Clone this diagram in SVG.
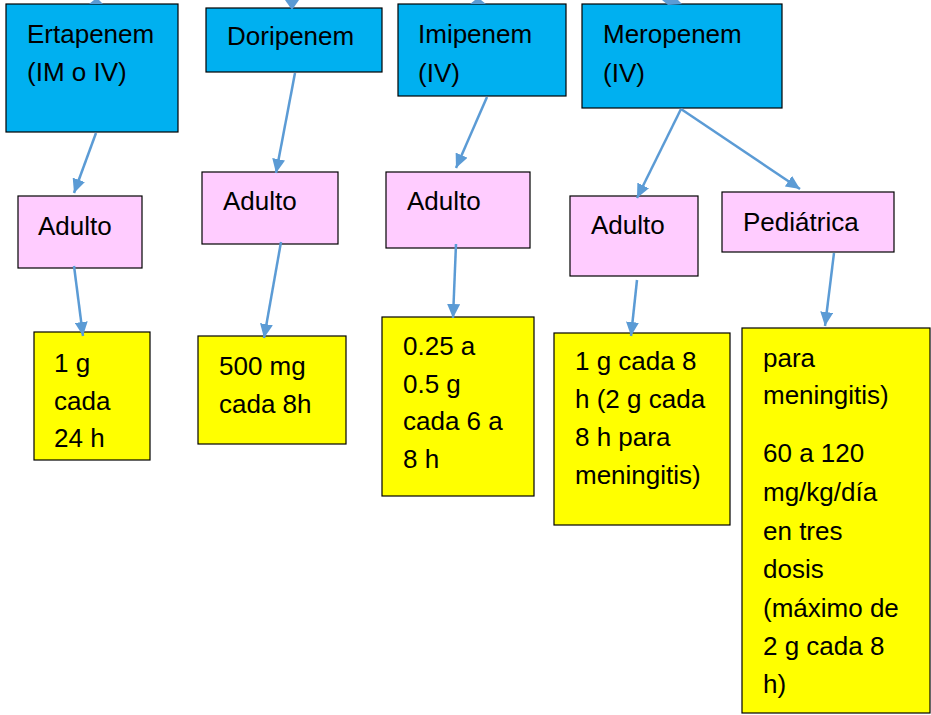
<svg xmlns="http://www.w3.org/2000/svg" width="931" height="715" viewBox="0 0 931 715">
<defs>
<style>
.drug{fill:#00B0F0;stroke:#000;stroke-width:1.2}
.grp{fill:#FFCCFF;stroke:#000;stroke-width:1.2}
.dose{fill:#FFFF00;stroke:#000;stroke-width:1.2}
text{font-family:"Liberation Sans",Arial,sans-serif;font-size:26px;fill:#000}
.conn line{stroke:#5B9BD5;stroke-width:2.5;marker-end:url(#arr)}
.conn polygon{fill:#5B9BD5}
</style>
<marker id="arr" viewBox="0 0 14 13" refX="14" refY="6.5" markerWidth="14" markerHeight="13" markerUnits="userSpaceOnUse" orient="auto">
<path d="M0,0 L14,6.5 L0,13 z" fill="#5B9BD5"/>
</marker>
</defs>
<rect width="931" height="715" fill="#fff"/>
<g id="n-ertapenem"><rect class="drug" x="6" y="4" width="172" height="128"/><text x="27" y="43">Ertapenem</text><text x="27" y="81">(IM o IV)</text></g>
<g id="n-doripenem"><rect class="drug" x="206" y="8" width="176" height="64"/><text x="227" y="45">Doripenem</text></g>
<g id="n-imipenem"><rect class="drug" x="398" y="4" width="168" height="92"/><text x="418" y="43">Imipenem</text><text x="418" y="82">(IV)</text></g>
<g id="n-meropenem"><rect class="drug" x="582" y="4" width="200" height="104"/><text x="603" y="43">Meropenem</text><text x="603" y="82">(IV)</text></g>
<g id="n-adulto-e"><rect class="grp" x="18" y="196" width="124" height="72"/><text x="38" y="235">Adulto</text></g>
<g id="n-adulto-d"><rect class="grp" x="202" y="172" width="136" height="72"/><text x="223" y="210">Adulto</text></g>
<g id="n-adulto-i"><rect class="grp" x="386" y="172" width="144" height="76"/><text x="407" y="210">Adulto</text></g>
<g id="n-adulto-m"><rect class="grp" x="570" y="196" width="128" height="80"/><text x="591" y="234">Adulto</text></g>
<g id="n-pediatrica"><rect class="grp" x="722" y="192" width="172" height="60"/><text x="743" y="231">Pediátrica</text></g>
<g id="n-dose-e"><rect class="dose" x="34" y="332" width="116" height="128"/><text x="54" y="372">1 g</text><text x="54" y="410">cada</text><text x="54" y="447">24 h</text></g>
<g id="n-dose-d"><rect class="dose" x="198" y="336" width="148" height="108"/><text x="219" y="375">500 mg</text><text x="219" y="413">cada 8h</text></g>
<g id="n-dose-i"><rect class="dose" x="382" y="317" width="152" height="179"/><text x="403" y="355">0.25 a</text><text x="403" y="393">0.5 g</text><text x="403" y="430">cada 6 a</text><text x="403" y="468">8 h</text></g>
<g id="n-dose-m"><rect class="dose" x="554" y="333" width="176" height="192"/><text x="575" y="370">1 g cada 8</text><text x="575" y="408">h (2 g cada</text><text x="575" y="446">8 h para</text><text x="575" y="484">meningitis)</text></g>
<g id="n-dose-p"><rect class="dose" x="742" y="328" width="188" height="385"/><text x="763" y="367">para</text><text x="763" y="404">meningitis)</text><text x="763" y="462">60 a 120</text><text x="763" y="501">mg/kg/día</text><text x="763" y="540">en tres</text><text x="763" y="578">dosis</text><text x="763" y="617">(máximo de</text><text x="763" y="655">2 g cada 8</text><text x="763" y="693">h)</text></g>
<g id="connectors" class="conn">
<polygon points="89,4 94,0 99,0 103,4"/>
<polygon points="285,0 299,0 292,10"/>
<polygon points="470,4 475,0 481,0 486,4"/>
<polygon points="662,0 678,0 682,4 668,5"/>
<line x1="96" y1="133" x2="74" y2="193"/>
<line x1="74" y1="266" x2="83" y2="336"/>
<line x1="295" y1="73" x2="276" y2="173"/>
<line x1="281" y1="242" x2="264" y2="338"/>
<line x1="487" y1="97" x2="456" y2="168"/>
<line x1="456" y1="244" x2="453" y2="318"/>
<line x1="681" y1="109" x2="637" y2="198"/>
<line x1="681" y1="109" x2="800" y2="189"/>
<line x1="637" y1="280" x2="631" y2="336"/>
<line x1="834" y1="253" x2="825" y2="326"/>
</g>
</svg>
